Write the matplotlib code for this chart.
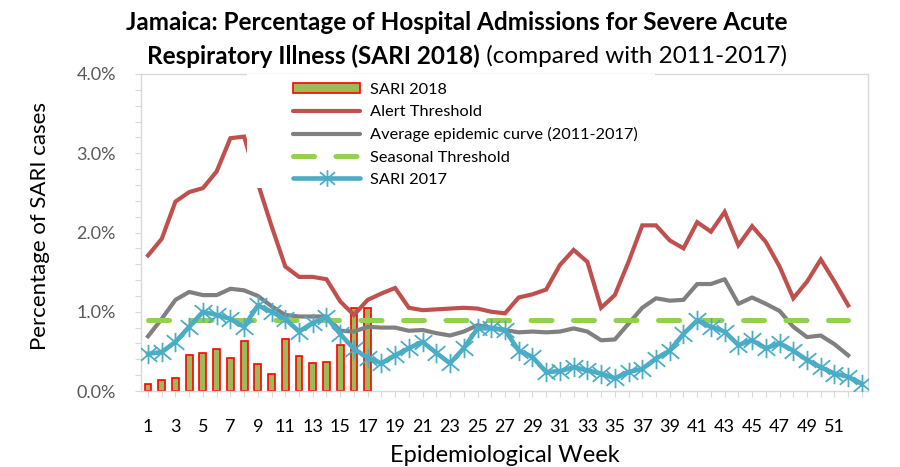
import matplotlib
matplotlib.use("Agg")
import matplotlib.pyplot as plt
from matplotlib.path import Path
from matplotlib.patches import Rectangle, Patch
from matplotlib.lines import Line2D

plt.rcParams['font.family'] = ['Lato', 'DejaVu Sans']

# ---------------- data ----------------
weeks = list(range(1, 54))
tick_labels = [str(w) if (w % 2 == 1 and w <= 51) else '' for w in weeks]

sari_2018 = [0.085, 0.135, 0.17, 0.46, 0.48, 0.535, 0.42, 0.63, 0.34, 0.21,
             0.65, 0.44, 0.355, 0.36, 0.58, 1.05, 1.05]

alert_threshold = [1.71, 1.92, 2.39, 2.51, 2.56, 2.77, 3.19, 3.21, 2.62, 2.08,
                   1.57, 1.44, 1.44, 1.41, 1.13, 0.96, 1.15, 1.23, 1.30, 1.05,
                   1.02, 1.03, 1.04, 1.05, 1.04, 1.00, 0.98, 1.18, 1.22, 1.28,
                   1.59, 1.78, 1.63, 1.05, 1.21, 1.63, 2.09, 2.09, 1.90, 1.80,
                   2.13, 2.01, 2.26, 1.84, 2.08, 1.88, 1.57, 1.17, 1.38, 1.66,
                   1.38, 1.08]

avg_curve = [0.69, 0.91, 1.15, 1.25, 1.21, 1.21, 1.29, 1.27, 1.20, 1.07,
             0.96, 0.94, 0.94, 0.94, 0.76, 0.75, 0.81, 0.80, 0.80, 0.76,
             0.77, 0.73, 0.70, 0.75, 0.83, 0.80, 0.77, 0.74, 0.75, 0.74,
             0.75, 0.79, 0.75, 0.64, 0.65, 0.85, 1.05, 1.17, 1.14, 1.15,
             1.35, 1.35, 1.41, 1.10, 1.18, 1.10, 1.01, 0.81, 0.68, 0.70,
             0.59, 0.45]

seasonal_threshold = 0.90

sari_2017 = [0.47, 0.49, 0.62, 0.81, 1.00, 0.96, 0.91, 0.81, 1.08, 1.00,
             0.91, 0.75, 0.86, 0.93, 0.72, 0.53, 0.42, 0.35, 0.45, 0.54,
             0.62, 0.48, 0.35, 0.54, 0.79, 0.79, 0.77, 0.51, 0.43, 0.24,
             0.25, 0.30, 0.26, 0.22, 0.16, 0.24, 0.28, 0.41, 0.51, 0.72,
             0.89, 0.81, 0.75, 0.58, 0.64, 0.54, 0.60, 0.51, 0.39, 0.30,
             0.22, 0.18, 0.09]

y_ticks = [0, 1, 2, 3, 4]
y_tick_labels = ['0.0%', '1.0%', '2.0%', '3.0%', '4.0%']

# ---------------- styles ----------------
C_RED = '#C0504D'
C_GRAY = '#808080'
C_GREEN = '#92D050'
C_BLUE = '#4BACC6'
C_BAR = '#9BBB59'
C_BAR_EDGE = '#FF0000'
C_AXIS = '#D9D9D9'
C_TICKTXT = '#595959'

W, H = 900, 467
fig = plt.figure(figsize=(9, 4.67), dpi=100)
ax = fig.add_axes([141 / W, (H - 391) / H, (868 - 141) / W, (391 - 74) / H])

# asterisk marker: vertical line + X
star = Path([(0, -1), (0, 1), (-0.9, -0.75), (0.9, 0.75), (-0.9, 0.75), (0.9, -0.75)],
            [Path.MOVETO, Path.LINETO, Path.MOVETO, Path.LINETO, Path.MOVETO, Path.LINETO])

ax.bar(weeks[:len(sari_2018)], sari_2018, width=0.5, color=C_BAR,
       edgecolor=C_BAR_EDGE, linewidth=1.2, zorder=2)
ax.plot(weeks[:len(alert_threshold)], alert_threshold, color=C_RED, lw=3.0,
        solid_joinstyle='miter', zorder=3)
ax.plot(weeks[:len(avg_curve)], avg_curve, color=C_GRAY, lw=3.0, zorder=3)
ax.hlines(seasonal_threshold, weeks[0], weeks[len(avg_curve) - 1], color=C_GREEN,
          lw=3.6, linestyles=(0, (4.2, 4.3)), capstyle='round', zorder=3)
ax.plot(weeks, sari_2017, color=C_BLUE, lw=3.3, marker=star, markersize=14,
        markeredgewidth=1.3, markeredgecolor=C_BLUE, markerfacecolor='none', zorder=3)

ax.set_xlim(0.49, 53.44)
ax.set_ylim(0, 4)
ax.set_xticks(weeks)
ax.set_xticklabels(tick_labels)
ax.set_yticks(y_ticks)
ax.set_yticklabels(y_tick_labels)
ax.set_yticks([i * 0.2 for i in range(21)], minor=True)

for s in ax.spines.values():
    s.set_color(C_AXIS)
    s.set_linewidth(1.0)
ax.tick_params(axis='both', which='both', direction='out', color=C_AXIS,
               length=4, width=0.8)
ax.tick_params(axis='x', labelsize=13, labelcolor='#000000', pad=16)
ax.tick_params(axis='y', labelsize=13, labelcolor=C_TICKTXT, pad=14)

ax.set_ylabel('Percentage of SARI cases', fontsize=16, va='center')
ax.yaxis.set_label_coords((40 - 141) / 727, (391 - 226) / 317)
ax.set_xlabel('Epidemiological Week', fontsize=17, va='center')
ax.xaxis.set_label_coords((505 - 141) / 727, (391 - 456) / 317)

# legend background (white box, like the Excel legend area)
ax.add_patch(Rectangle(((247 - 141) / 727, (391 - 188) / 317),
                       (655 - 247) / 727, (188 - 74) / 317,
                       transform=ax.transAxes, facecolor='white',
                       edgecolor='none', zorder=4, clip_on=False))

handles = [
    Patch(facecolor=C_BAR, edgecolor=C_BAR_EDGE, linewidth=1.2),
    Line2D([], [], color=C_RED, lw=3.0, solid_capstyle='round'),
    Line2D([], [], color=C_GRAY, lw=3.0, solid_capstyle='round'),
    Line2D([], [], color=C_GREEN, lw=3.6, linestyle=(0, (4.2, 4.3)),
           dash_capstyle='round'),
    Line2D([], [], color=C_BLUE, lw=3.3, marker=star, markersize=12,
           markeredgewidth=1.3, markerfacecolor='none', solid_capstyle='round'),
]
labels = ['SARI 2018', 'Alert Threshold', 'Average epidemic curve (2011-2017)',
          'Seasonal Threshold', 'SARI 2017']
leg = ax.legend(handles, labels, loc='upper left',
                bbox_to_anchor=((293 - 141) / 727, (391 - 83) / 317), borderaxespad=0,
                borderpad=0, frameon=False, fontsize=11.8, handlelength=4.1,
                handletextpad=0.6, labelspacing=0.5, numpoints=1,
                handleheight=0.6)
leg.set_zorder(5)

# title (two lines, second line mixed bold/regular)
t1 = fig.text(457 / W, (H - 23) / H, 'Jamaica: Percentage of Hospital Admissions for Severe Acute',
              ha='center', va='center', fontsize=17.5, fontweight='bold')
t2a = fig.text(0, (H - 56) / H, 'Respiratory Illness (SARI 2018)', ha='left',
               va='center', fontsize=17.5, fontweight='bold')
t2b = fig.text(0, (H - 56) / H, ' (compared with 2011-2017)', ha='left',
               va='center', fontsize=17.5)
fig.canvas.draw()
r = fig.canvas.get_renderer()
wa = t2a.get_window_extent(r).width
wb = t2b.get_window_extent(r).width
start = 467 - (wa + wb) / 2
t2a.set_x(start / W)
t2b.set_x((start + wa) / W)

fig.savefig('out.png', dpi=100)
